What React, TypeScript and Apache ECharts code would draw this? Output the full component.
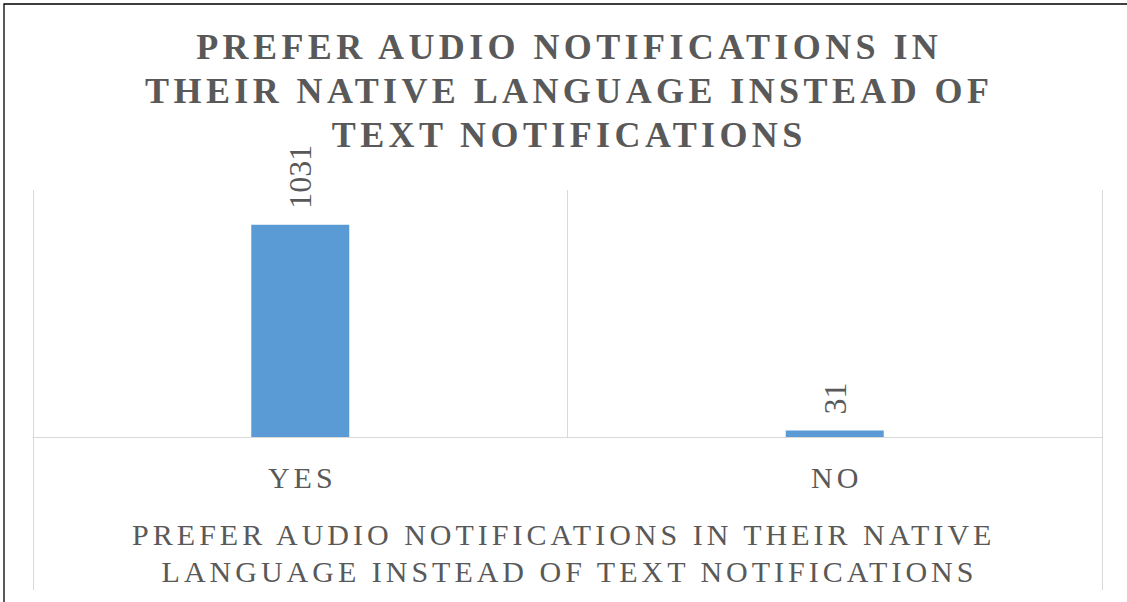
import React, { useEffect, useRef } from 'react';
import * as echarts from 'echarts';

const categories = ['YES', 'NO'];
const values = [1031, 31];
const groupLabel = ['PREFER AUDIO NOTIFICATIONS IN THEIR NATIVE LANGUAGE INSTEAD OF TEXT NOTIFICATIONS'];
const titleText = 'PREFER AUDIO NOTIFICATIONS IN\nTHEIR NATIVE LANGUAGE INSTEAD OF\nTEXT NOTIFICATIONS';

const FONT = 'Liberation Serif';
const GRAY = '#595959';
const LINE = '#d9d9d9';
const BAR = '#5B9BD5';

export default function App() {
  const ref = useRef<HTMLDivElement>(null);
  useEffect(() => {
    document.body.style.margin = '0';
    const chart = echarts.init(ref.current!, null, { renderer: 'svg' });
    const option = {
      animation: false,
      title: {
        text: titleText,
        left: 567,
        top: 25,
        textAlign: 'center',
        textVerticalAlign: 'top',
        padding: 0,
        textStyle: { fontFamily: FONT, fontWeight: 'bold', fontSize: 36, lineHeight: 44, color: GRAY },
      },
      graphic: [
        {
          type: 'rect',
          silent: true,
          shape: { x: 4, y: 4, width: 1400, height: 900 },
          style: { fill: 'none', stroke: '#000', lineWidth: 1.3 },
        },
      ],
      grid: { left: 33, right: 25, top: 190, bottom: 165, containLabel: false },
      xAxis: [
        {
          type: 'category',
          data: categories,
          position: 'bottom',
          axisLine: { lineStyle: { color: LINE, width: 1 } },
          axisTick: { show: false },
          splitLine: { show: true, interval: 0, lineStyle: { color: LINE, width: 1 } },
          axisLabel: { interval: 0, margin: 25, fontFamily: FONT, fontSize: 30, lineHeight: 30, color: GRAY },
        },
        {
          type: 'category',
          data: groupLabel,
          position: 'bottom',
          axisLine: { show: false },
          axisTick: { show: true, length: 153, lineStyle: { color: LINE, width: 1 } },
          splitLine: { show: false },
          axisLabel: {
            interval: 0,
            margin: 79,
            fontFamily: FONT,
            fontSize: 30,
            lineHeight: 37,
            color: GRAY,
            width: 800,
            overflow: 'break',
          },
        },
      ],
      yAxis: { type: 'value', min: 0, max: 1200, show: false },
      series: [
        {
          type: 'bar',
          data: values,
          xAxisIndex: 0,
          barWidth: 98,
          itemStyle: { color: BAR },
          label: {
            show: true,
            position: 'top',
            rotate: 90,
            align: 'left',
            verticalAlign: 'middle',
            distance: 16,
            fontFamily: FONT,
            fontSize: 32,
            color: GRAY,
          },
        },
      ],
    };

    // Excel-style tracking: widen text runs with SVG textLength (spacing only).
    const applySpacing = () => {
      const root = ref.current;
      if (!root) return;
      root.querySelectorAll('text, tspan').forEach((node) => {
        const el = node as SVGTextContentElement;
        if (el.querySelector('tspan')) return;
        const txt = el.textContent || '';
        const trimmed = txt.trim();
        if (!trimmed || /^\d+$/.test(trimmed)) return;
        let base = el.getAttribute('data-base');
        if (!base) {
          base = String(el.getComputedTextLength());
          el.setAttribute('data-base', base);
        }
        const fs = parseFloat(getComputedStyle(el).fontSize) || 30;
        const sp = fs >= 34 ? 4.4 : 4;
        el.setAttribute('textLength', String(parseFloat(base) + sp * (txt.length - 1)));
        el.setAttribute('lengthAdjust', 'spacing');
      });
    };
    chart.on('finished', applySpacing);
    chart.setOption(option as any);
    applySpacing();
    const timers = [setTimeout(applySpacing, 30), setTimeout(applySpacing, 200)];
    return () => {
      timers.forEach(clearTimeout);
      chart.dispose();
    };
  }, []);
  return <div ref={ref} style={{ width: 1127, height: 602 }} />;
}
